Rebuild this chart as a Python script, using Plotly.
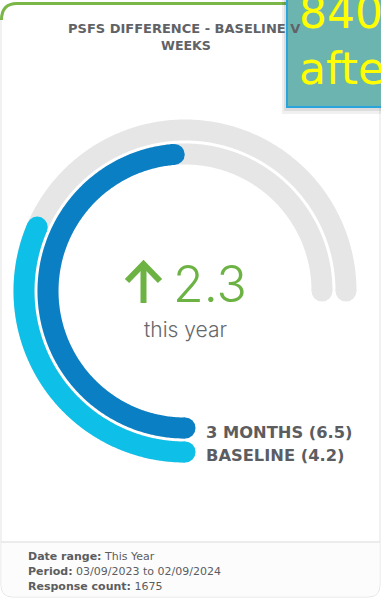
import numpy as np
import plotly.graph_objects as go

# ---- figure size (px) ----
W, H = 381, 599

# ---- data ----
series_labels = ["3 MONTHS", "BASELINE"]
series_scores = [6.5, 4.2]
max_score = 10

title_lines = ["PSFS DIFFERENCE - BASELINE V", "WEEKS"]
change_caption = "this year"
date_range = "This Year"
period_start = "03/09/2023"
period_end = "02/09/2024"
response_count = 1675
banner_lines = ["840", "afte"]

# ---- styles ----
ring_colors = ["#0a7fc4", "#0ec0e8"]
track_color = "#e6e6e6"
green = "#6cb344"
text_grey = "#5b5d61"
font_main = "Inter"
font_wide = "DejaVu Sans"

sweep_deg = 270          # full gauge sweep for max_score
cx, cy = 185, 291        # gauge centre (px)
polar_r = 180            # polar radius (px) == radial range max
ring_radii = [137, 161]  # 3 MONTHS inside, BASELINE outside
ring_width = 21


def px(x):
    return x / W


def py(y):
    return 1 - y / H


fig = go.Figure()

# grey background tracks
for r in ring_radii:
    th = np.linspace(0, sweep_deg, 400)
    fig.add_trace(go.Scatterpolar(
        r=np.full(th.size, r), theta=th, mode="lines",
        line=dict(color=track_color, width=ring_width),
        hoverinfo="skip", showlegend=False))
    fig.add_trace(go.Scatterpolar(
        r=[r, r], theta=[0, sweep_deg], mode="markers",
        marker=dict(color=track_color, size=ring_width, line=dict(width=0)),
        hoverinfo="skip", showlegend=False))

# score arcs with rounded ends
for label, score, r, color in zip(series_labels, series_scores, ring_radii, ring_colors):
    end = score / max_score * sweep_deg
    th = np.linspace(0, end, 300)
    fig.add_trace(go.Scatterpolar(
        r=np.full(th.size, r), theta=th, mode="lines",
        line=dict(color=color, width=ring_width),
        name=label, hoverinfo="skip", showlegend=False))
    fig.add_trace(go.Scatterpolar(
        r=[r, r], theta=[0, end], mode="markers",
        marker=dict(color=color, size=ring_width, line=dict(width=0)),
        hoverinfo="skip", showlegend=False))

fig.update_layout(
    width=W, height=H,
    margin=dict(l=0, r=0, t=0, b=0),
    paper_bgcolor="white",
    plot_bgcolor="white",
    showlegend=False,
    polar=dict(
        domain=dict(x=[px(cx - polar_r), px(cx + polar_r)],
                    y=[py(cy + polar_r), py(cy - polar_r)]),
        bgcolor="rgba(0,0,0,0)",
        radialaxis=dict(visible=False, range=[0, polar_r]),
        angularaxis=dict(visible=False, rotation=270, direction="clockwise"),
    ),
)

shapes = []


def path(points, close=False):
    s = ""
    for cmd, *vals in points:
        coords = []
        for j in range(0, len(vals), 2):
            coords.append(f"{px(vals[j]):.5f},{py(vals[j + 1]):.5f}")
        s += cmd + " " + " ".join(coords) + " "
    if close:
        s += "Z"
    return s.strip()


# card body
card = path([("M", 1, 18), ("Q", 1, 3, 16, 3), ("L", 366, 3), ("Q", 380, 3, 380, 18),
             ("L", 380, 585), ("Q", 380, 597, 368, 597), ("L", 13, 597),
             ("Q", 1, 597, 1, 585)], close=True)
shapes.append(dict(type="path", path=card, xref="paper", yref="paper",
                   fillcolor="white", line=dict(color="#e3e3e3", width=1), layer="below"))
# footer band
foot = path([("M", 1.5, 542), ("L", 379.5, 542), ("L", 379.5, 585), ("Q", 379.5, 596.5, 368, 596.5),
             ("L", 13, 596.5), ("Q", 1.5, 596.5, 1.5, 585)], close=True)
shapes.append(dict(type="path", path=foot, xref="paper", yref="paper",
                   fillcolor="#fcfcfc", line=dict(width=0), layer="below"))
shapes.append(dict(type="line", xref="paper", yref="paper",
                   x0=px(1), x1=px(380), y0=py(542), y1=py(542),
                   line=dict(color="#e6e6e6", width=1.5), layer="below"))
# green top edge
shapes.append(dict(type="path", xref="paper", yref="paper",
                   path=path([("M", 1.5, 20), ("Q", 1.5, 3.5, 17, 3.5), ("L", 380, 3.5)]),
                   line=dict(color="#7ab648", width=3)))

# up arrow for the change
shapes.append(dict(type="line", xref="paper", yref="paper",
                   x0=px(143.5), x1=px(143.5), y0=py(303), y1=py(266),
                   line=dict(color=green, width=6)))
shapes.append(dict(type="path", xref="paper", yref="paper",
                   path=path([("M", 127, 281), ("L", 143.5, 264), ("L", 160, 281)]),
                   line=dict(color=green, width=6)))

# overlay banner with its shadow
shapes.append(dict(type="rect", xref="paper", yref="paper",
                   x0=px(282), x1=px(395), y0=py(114), y1=py(-10),
                   fillcolor="rgba(0,0,0,0.06)", line=dict(width=0)))
shapes.append(dict(type="rect", xref="paper", yref="paper",
                   x0=px(284), x1=px(395), y0=py(111), y1=py(-10),
                   fillcolor="rgba(0,0,0,0.08)", line=dict(width=0)))
shapes.append(dict(type="rect", xref="paper", yref="paper",
                   x0=px(287), x1=px(395), y0=py(107), y1=py(-10),
                   fillcolor="#6cb4b0", line=dict(color="#2ba4dc", width=2)))

annotations = []


def text(x, y, s, size, color=text_grey, family=font_main, xanchor="center", weight=None):
    f = dict(size=size, color=color, family=family)
    if weight is not None:
        f["weight"] = weight
    annotations.append(dict(x=px(x), y=py(y), xref="paper", yref="paper", text=s,
                            showarrow=False, xanchor=xanchor, yanchor="middle",
                            font=f, align="left" if xanchor == "left" else "center"))


# title (first line stops at the banner, second line centred)
text(66, 28, f"<b>{title_lines[0]}</b>", 13, color="#606266", family=font_wide, xanchor="left")
text(186, 45.5, f"<b>{title_lines[1]}</b>", 12.6, color="#606266", family=font_wide)

# change value in the middle
change = series_scores[0] - series_scores[1]
text(210, 284, f"{change:.1f}", 50, color=green, weight=300)
text(185, 329, change_caption, 21, color="#66686c", weight=300)

# series labels next to the arc starts
label_y = {0: 432, 1: 455}
for i, (label, score) in enumerate(zip(series_labels, series_scores)):
    text(204, label_y[i], f"<b>{label} ({score})</b>", 16.3, xanchor="left", family=font_wide)

# footer
footer_font = 11
text(26, 556, f"<b>Date range:</b> {date_range}", footer_font, xanchor="left", family=font_wide)
text(26, 571, f"<b>Period:</b> {period_start} to {period_end}", footer_font, xanchor="left", family=font_wide)
text(26, 586, f"<b>Response count:</b> {response_count}", footer_font, xanchor="left", family=font_wide)

# banner text
text(297, 12, banner_lines[0], 44, color="#ffff00", family="DejaVu Sans", xanchor="left")
text(297, 68, banner_lines[1], 44, color="#ffff00", family="DejaVu Sans", xanchor="left")

fig.update_layout(shapes=shapes, annotations=annotations)
fig.write_html("out.html")
